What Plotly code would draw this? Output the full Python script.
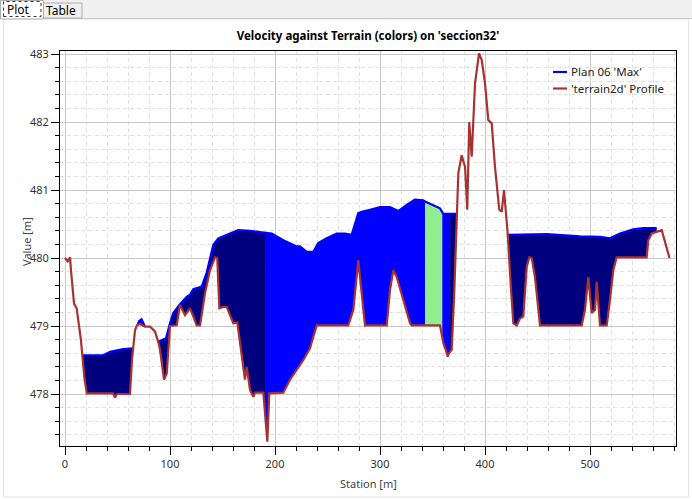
import numpy as np
import plotly.graph_objects as go

# ---------------- data ----------------
terrain_station = [0, 2.6, 3.8, 4.8, 5.7, 7.0, 8.6, 11.1, 13.3, 15.2, 16.5, 18.4, 20.7, 45.7, 47.6, 49.5,
                   61.9, 63.8, 66.7, 68.6, 71.4, 76.2, 81.0, 84.1, 85.7, 88.9, 90.5, 92.4, 94.3, 96.9,
                   98.1, 100.0, 106.4, 109.5, 114.3, 119.0, 122.2, 125.4, 128.6, 133.3, 138.1, 142.9,
                   145.0, 147.0, 150.8, 154.0, 157.1, 160.3, 164.1, 166.7, 169.8, 171.4, 173.0, 176.2,
                   179.3, 181.0, 188.9, 190.5, 192.7, 194.6, 207.9, 214.3, 220.7, 227.0, 233.3, 239.7,
                   269.8, 274.6, 279.3, 284.1, 285.7, 306.4, 309.5, 312.7, 315.9, 328.6, 330.2, 357.1,
                   360.3, 362.6, 364.5, 365.7, 368.3, 370.8, 373.0, 374.6, 377.8, 381.0, 383.1, 385.0,
                   387.3, 390.5, 394.3, 396.9, 400.0, 403.1, 406.4, 409.5, 413.6, 415.9, 418.1, 421.6,
                   424.8, 427.0, 430.2, 433.3, 436.5, 439.7, 442.2, 444.5, 447.6, 452.4, 492.1, 495.2,
                   498.4, 501.6, 504.8, 506.4, 509.5, 515.9, 519.0, 522.2, 525.4, 554.0, 555.5, 558.8,
                   568.3, 571.4, 574.6, 575.7]
terrain_elev = [480.00, 479.95, 479.98, 480.01, 479.82, 479.53, 479.33, 479.26, 479.04, 478.79, 478.57,
                478.25, 478.01, 478.01, 477.95, 478.00, 478.00, 478.50, 478.94, 479.01, 479.03, 478.99,
                478.99, 478.94, 478.92, 478.76, 478.65, 478.43, 478.21, 478.30, 478.57, 479.00, 479.01,
                479.31, 479.16, 479.26, 479.14, 479.01, 479.01, 479.48, 479.82, 480.01, 480.00, 479.26,
                479.28, 479.28, 479.16, 479.04, 479.05, 478.75, 478.40, 478.21, 478.40, 478.06, 477.96,
                478.02, 478.02, 477.67, 477.30, 478.01, 478.02, 478.21, 478.35, 478.50, 478.67, 479.01,
                479.01, 479.24, 479.97, 479.19, 479.01, 479.01, 479.53, 479.82, 479.72, 479.04, 479.01,
                479.01, 478.75, 478.65, 478.55, 478.60, 478.65, 479.53, 480.56, 481.25, 481.51, 481.34,
                480.71, 482.00, 481.49, 482.57, 483.01, 482.91, 482.57, 482.03, 481.98, 481.34, 480.71,
                480.68, 481.00, 480.36, 479.53, 479.04, 479.01, 479.11, 479.14, 479.87, 480.01, 480.00,
                479.72, 479.01, 479.01, 479.24, 479.72, 479.19, 479.24, 479.65, 479.01, 479.01, 479.38,
                479.82, 480.01, 480.01, 480.26, 480.36, 480.41, 480.24, 480.04, 480.00]

# Max water surface (Plan 06 'Max'), one list pair per wetted stretch
pool1_station = [16.5, 36.5, 42.9, 55.5, 65.0]
pool1_wse = [478.57, 478.57, 478.62, 478.66, 478.67]

pool2_station = [69.0, 70.5, 72.9, 74.3, 76.2]
pool2_wse = [479.01, 479.07, 479.10, 479.06, 478.99]

pool3_station = [88.9, 92.4, 96.2, 100.0, 103.1, 109.5, 115.9, 119.0, 122.2, 130.2, 135.0, 141.2, 146.0,
                 157.1, 165.0, 176.2, 190.5, 196.9, 207.9, 220.7, 223.8, 230.2, 236.5, 241.2, 249.2,
                 258.8, 266.7, 273.0, 279.3, 282.6, 290.5, 300.0, 309.5, 317.4, 325.4, 333.3, 341.2,
                 342.9, 357.1, 360.3, 373.0]
pool3_wse = [478.77, 478.79, 478.82, 479.04, 479.19, 479.32, 479.43, 479.46, 479.54, 479.58, 479.79,
             480.19, 480.29, 480.36, 480.41, 480.40, 480.37, 480.36, 480.26, 480.17, 480.17, 480.09,
             480.09, 480.22, 480.29, 480.36, 480.36, 480.34, 480.66, 480.68, 480.71, 480.75, 480.75,
             480.69, 480.78, 480.86, 480.85, 480.83, 480.73, 480.65, 480.65]

pool4_station = [422.2, 458.8, 490.5, 509.5, 519.0, 528.6, 541.2, 550.8, 563.5]
pool4_wse = [480.34, 480.35, 480.32, 480.31, 480.29, 480.36, 480.42, 480.44, 480.44]

# velocity colour bands along the section (start station, end station, colour)
band_start = [16.5, 69.0, 88.9, 190.5, 342.9, 359.3, 366.7, 422.2]
band_end = [65.0, 76.2, 190.5, 342.9, 359.3, 366.7, 373.0, 563.5]
band_color = ["#00007F", "#0000FF", "#00007F", "#0000FF", "#90EE90", "#0000FF", "#00007F", "#00007F"]

title_text = "Velocity against Terrain (colors) on 'seccion32'"
x_title = "Station [m]"
y_title = "Value [m]"
legend_names = ["Plan 06 'Max'", "'terrain2d' Profile"]
water_color = "#0000FF"
terrain_color = "#A83232"

# ---------------- figure ----------------
pools = [(pool1_station, pool1_wse), (pool2_station, pool2_wse),
         (pool3_station, pool3_wse), (pool4_station, pool4_wse)]
ts = np.array(terrain_station, dtype=float)
te = np.array(terrain_elev, dtype=float)

fig = go.Figure()

for a, b, col in zip(band_start, band_end, band_color):
    for ps, pw in pools:
        ps_a = np.array(ps, dtype=float)
        pw_a = np.array(pw, dtype=float)
        if a >= ps_a[0] - 1e-6 and b <= ps_a[-1] + 1e-6:
            inner = (ps_a > a) & (ps_a < b)
            wx = np.concatenate([[a], ps_a[inner], [b]])
            wy = np.concatenate([[np.interp(a, ps_a, pw_a)], pw_a[inner], [np.interp(b, ps_a, pw_a)]])
            tin = (ts > a) & (ts < b)
            tx = np.concatenate([[a], ts[tin], [b]])
            ty = np.concatenate([[np.interp(a, ts, te)], te[tin], [np.interp(b, ts, te)]])
            px = np.concatenate([wx, tx[::-1]])
            py = np.concatenate([wy, ty[::-1]])
            fig.add_trace(go.Scatter(x=px, y=py, mode="lines", fill="toself", fillcolor=col,
                                     line=dict(width=0, color=col), hoverinfo="skip", showlegend=False))
            break

wx_all, wy_all = [], []
for ps, pw in pools:
    wx_all += list(ps) + [None]
    wy_all += list(pw) + [None]

fig.add_trace(go.Scatter(x=wx_all, y=wy_all, mode="lines", name=legend_names[0],
                         line=dict(color=water_color, width=2.2), showlegend=False))
fig.add_trace(go.Scatter(x=terrain_station, y=terrain_elev, mode="lines", name=legend_names[1],
                         line=dict(color=terrain_color, width=2.2), showlegend=False))

# pixel -> paper helpers
L, R, T, B = 60, 676, 51, 446
def xp(px):
    return (px - L) / (R - L)
def yp(py):
    return (B - py) / (B - T)

shapes = []
annotations = []

# window chrome (tab strip)
shapes.append(dict(type="rect", xref="paper", yref="paper", x0=xp(0), x1=xp(692), y0=yp(0), y1=yp(18.5),
                   fillcolor="#F0F0F0", line=dict(width=0), layer="below"))
shapes.append(dict(type="line", xref="paper", yref="paper", x0=xp(0), x1=xp(692), y0=yp(18.5), y1=yp(18.5),
                   line=dict(color="#C8C8C8", width=1)))
shapes.append(dict(type="rect", xref="paper", yref="paper", x0=xp(43.5), x1=xp(82), y0=yp(18), y1=yp(3),
                   fillcolor="#F0F0F0", line=dict(color="#ADADAD", width=1)))
shapes.append(dict(type="rect", xref="paper", yref="paper", x0=xp(0.5), x1=xp(43.5), y0=yp(19), y1=yp(0.5),
                   fillcolor="#FFFFFF", line=dict(color="#ADADAD", width=1)))
shapes.append(dict(type="rect", xref="paper", yref="paper", x0=xp(3.5), x1=xp(41), y0=yp(16.5), y1=yp(1.5),
                   line=dict(color="#333333", width=1, dash="dot")))
shapes.append(dict(type="rect", xref="paper", yref="paper", x0=xp(3.5), x1=xp(688.5), y0=yp(497), y1=yp(19),
                   line=dict(color="#E3E3E3", width=1), layer="below"))
annotations.append(dict(text="Plot", xref="paper", yref="paper", x=xp(18), y=yp(9), xanchor="center",
                        yanchor="middle", showarrow=False,
                        font=dict(family="Noto Sans", size=12, color="#000000")))
annotations.append(dict(text="Table", xref="paper", yref="paper", x=xp(61), y=yp(11), xanchor="center",
                        yanchor="middle", showarrow=False,
                        font=dict(family="Noto Sans", size=12, color="#000000")))

# axis titles
annotations.append(dict(text=x_title, xref="paper", yref="paper", x=xp(368), y=yp(483), xanchor="center",
                        yanchor="middle", showarrow=False,
                        font=dict(family="Noto Sans", size=11, color="#444444")))
annotations.append(dict(text=y_title, xref="paper", yref="paper", x=xp(26), y=yp(242), xanchor="center",
                        yanchor="middle", showarrow=False, textangle=-90,
                        font=dict(family="Noto Sans", size=11, color="#444444")))

# legend (drawn manually to match the short line samples)
for i, (name, col) in enumerate(zip(legend_names, [water_color, terrain_color])):
    ypix = 72 + i * 16.5
    shapes.append(dict(type="line", xref="paper", yref="paper", x0=xp(553), x1=xp(567), y0=yp(ypix), y1=yp(ypix),
                       line=dict(color=col, width=2.2)))
    annotations.append(dict(text=name, xref="paper", yref="paper", x=xp(569), y=yp(ypix), xanchor="left",
                            yanchor="middle", showarrow=False,
                            font=dict(family="Noto Sans", size=11.5, color="#222222")))

fig.update_layout(
    width=692, height=500,
    margin=dict(l=L, r=692 - R, t=T, b=500 - B, autoexpand=False),
    paper_bgcolor="#FFFFFF", plot_bgcolor="#FFFFFF",
    font=dict(family="Noto Sans", size=11, color="#333333"),
    title=dict(text="<b>" + title_text + "</b>", x=0.5, xref="paper", xanchor="center",
               y=1 - 36 / 500, yref="container", yanchor="middle",
               font=dict(family="Noto Sans", size=11.5, color="#000000")),
    showlegend=False,
    shapes=shapes, annotations=annotations,
)

x0 = -5 / 1.05
fig.update_xaxes(range=[x0, x0 + (R - L) / 1.05], tick0=0, dtick=100, ticks="outside", ticklen=8,
                 tickcolor="#000000", showline=True, linecolor="#000000", linewidth=1, mirror=True,
                 showgrid=True, gridcolor="#C8C8C8", gridwidth=1, zeroline=False, automargin=False,
                 tickfont=dict(size=11, color="#333333"),
                 minor=dict(dtick=20, tick0=0, ticks="outside", ticklen=4, tickcolor="#000000",
                            showgrid=True, gridcolor="#E0E0E0", griddash="4px,3px", gridwidth=1))
ytop = 483 + (54 - T) / 68
fig.update_yaxes(range=[ytop - (B - T) / 68, ytop], tick0=478, dtick=1, ticks="outside", ticklen=8,
                 tickcolor="#000000", showline=True, linecolor="#000000", linewidth=1, mirror=True,
                 showgrid=True, gridcolor="#C8C8C8", gridwidth=1, zeroline=False, automargin=False,
                 tickfont=dict(size=11, color="#333333"),
                 minor=dict(dtick=0.2, tick0=478, ticks="outside", ticklen=4, tickcolor="#000000",
                            showgrid=True, gridcolor="#E0E0E0", griddash="4px,3px", gridwidth=1))

fig.write_html("out.html", config={"displayModeBar": False},
               post_script="document.body.style.margin='0px';document.body.style.padding='0px';")
